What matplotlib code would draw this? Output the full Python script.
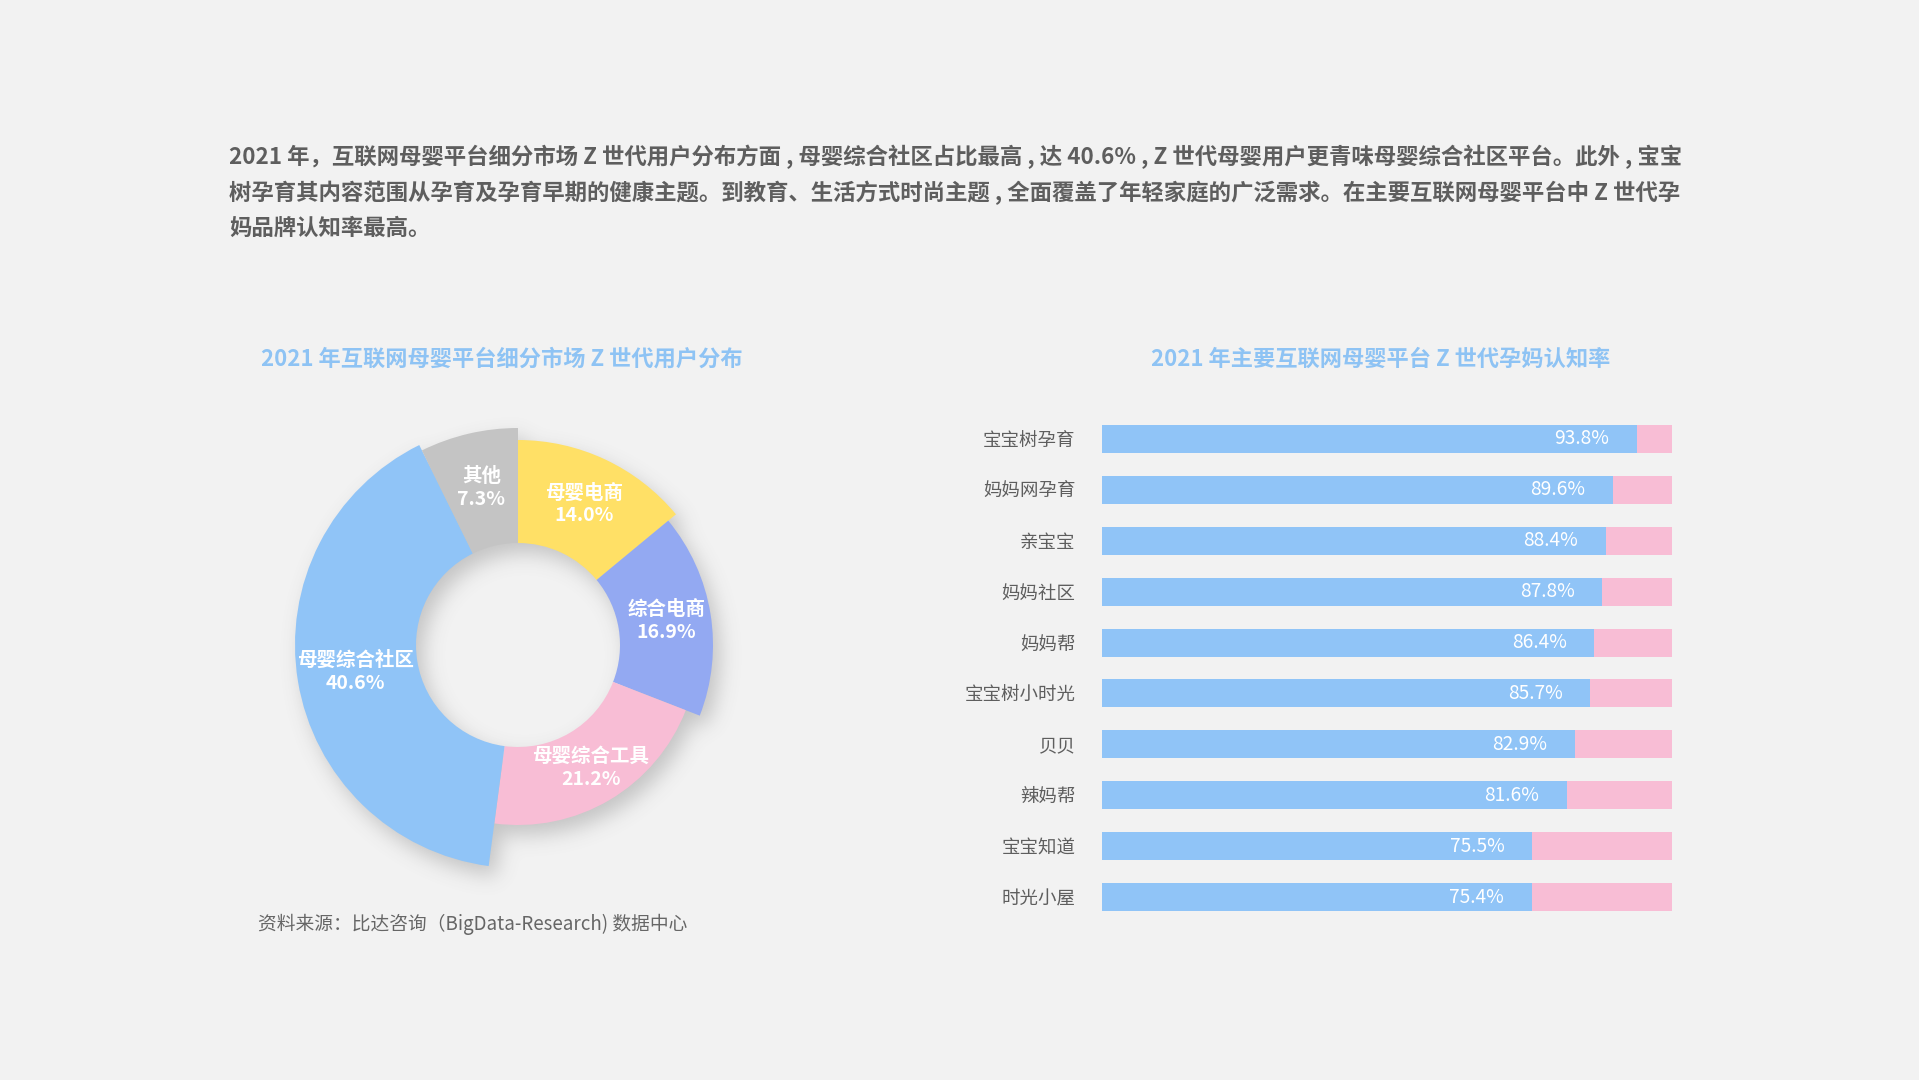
import numpy as np
import matplotlib
matplotlib.use("Agg")
import matplotlib.pyplot as plt
from matplotlib.patches import Wedge

plt.rcParams['font.family'] = ['Noto Sans CJK SC', 'DejaVu Sans']

# ---------------- data ----------------
intro_lines = [
    "2021 年，互联网母婴平台细分市场 Z 世代用户分布方面 , 母婴综合社区占比最高 , 达 40.6% , Z 世代母婴用户更青味母婴综合社区平台。此外 , 宝宝",
    "树孕育其内容范围从孕育及孕育早期的健康主题。到教育、生活方式时尚主题 , 全面覆盖了年轻家庭的广泛需求。在主要互联网母婴平台中 Z 世代孕",
    "妈品牌认知率最高。",
]
pie_title = "2021 年互联网母婴平台细分市场 Z 世代用户分布"
bar_title = "2021 年主要互联网母婴平台 Z 世代孕妈认知率"
source_text = "资料来源：比达咨询（BigData-Research) 数据中心"

pie_labels = ["母婴电商", "综合电商", "母婴综合工具", "母婴综合社区", "其他"]
pie_values = [14.0, 16.9, 21.2, 40.6, 7.3]

bar_categories = ["宝宝树孕育", "妈妈网孕育", "亲宝宝", "妈妈社区", "妈妈帮",
                  "宝宝树小时光", "贝贝", "辣妈帮", "宝宝知道", "时光小屋"]
bar_values = [93.8, 89.6, 88.4, 87.8, 86.4, 85.7, 82.9, 81.6, 75.5, 75.4]

# ---------------- style ----------------
BG = "#F2F2F2"
pie_colors = ["#FFE066", "#93A9F2", "#F8BDD5", "#90C4F7", "#C4C4C4"]
pie_outer_r = [205, 195, 180, 223, 217]   # rose-style outer radii (px)
pie_inner_r = 102
BLUE = "#90C4F7"
PINK = "#F8BDD5"
TITLE_C = "#8EC3F4"
TEXT_C = "#5E5E5E"

W, H = 1919, 1080
fig = plt.figure(figsize=(W / 100, H / 100), dpi=100, facecolor=BG)

def fx(px):
    return px / W

def fy(py):
    return 1 - py / H

# intro paragraph
for i, line in enumerate(intro_lines):
    fig.text(fx(229), fy(157 + 35.5 * i), line, fontsize=16.15, fontweight='bold',
             color=TEXT_C, ha='left', va='center')

# titles
fig.text(fx(502), fy(359), pie_title, fontsize=16, fontweight='bold',
         color=TITLE_C, ha='center', va='center')
fig.text(fx(1381), fy(359), bar_title, fontsize=16, fontweight='bold',
         color=TITLE_C, ha='center', va='center')

# source
fig.text(fx(258), fy(924), source_text, fontsize=13.5, color="#666666",
         ha='left', va='center')

# ---------------- donut (rose) ----------------
cx, cy = 518, 645
half = 270
axp = fig.add_axes([fx(cx - half), fy(cy + half), 2 * half / W, 2 * half / H])
axp.set_xlim(-half, half)
axp.set_ylim(-half, half)
axp.set_aspect('equal')
axp.axis('off')

total = sum(pie_values)
fracs = np.array(pie_values) / total
cum = np.concatenate([[0], np.cumsum(fracs)])

# soft shadow
n = 2 * half
xs = np.arange(n) - half + 0.5
X, Y = np.meshgrid(xs, xs)
dx, dy = 7, -10
Xs, Ys = X - dx, Y - dy
R = np.hypot(Xs, Ys)
ang = (90 - np.degrees(np.arctan2(Ys, Xs))) % 360 / 360.0
idx = np.clip(np.searchsorted(cum, ang, side='right') - 1, 0, len(pie_values) - 1)
outer = np.array(pie_outer_r)[idx]
mask = ((R >= pie_inner_r) & (R <= outer)).astype(float)
sig = 10
k = np.arange(-3 * sig, 3 * sig + 1)
kern = np.exp(-k ** 2 / (2 * sig ** 2))
kern /= kern.sum()
blur = np.apply_along_axis(lambda v: np.convolve(v, kern, mode='same'), 0, mask)
blur = np.apply_along_axis(lambda v: np.convolve(v, kern, mode='same'), 1, blur)
rgba = np.zeros((n, n, 4))
rgba[..., 0:3] = 0.35
rgba[..., 3] = blur * 0.3
axp.imshow(rgba, extent=(-half, half, -half, half), origin='lower', zorder=1,
           interpolation='bilinear')

for i, (lab, val) in enumerate(zip(pie_labels, pie_values)):
    a0 = 90 - 360 * cum[i]
    a1 = 90 - 360 * cum[i + 1]
    ro = pie_outer_r[i]
    w = Wedge((0, 0), ro, a1, a0, width=ro - pie_inner_r,
              facecolor=pie_colors[i], edgecolor='none', zorder=2)
    axp.add_patch(w)
    mid = np.radians((a0 + a1) / 2)
    rm = (ro + pie_inner_r) / 2 + 2
    axp.text(rm * np.cos(mid), rm * np.sin(mid), f"{lab}\n{val:.1f}%",
             ha='center', va='center', color='white', fontsize=14,
             fontweight='bold', linespacing=1.26, zorder=3)

# ---------------- bars ----------------
row0, row_gap = 439, 50.9
nb = len(bar_categories)
top = row0 - row_gap / 2
bottom = row0 + row_gap * (nb - 1) + row_gap / 2
axb = fig.add_axes([fx(1102), fy(bottom), (1672 - 1102) / W, (bottom - top) / H])
axb.set_facecolor('none')
ypos = np.arange(nb)
bh = 28 / row_gap
axb.barh(ypos, [100] * nb, height=bh, color=PINK, zorder=1)
axb.barh(ypos, bar_values, height=bh, color=BLUE, zorder=2)
for y, v in zip(ypos, bar_values):
    axb.annotate(f"{v:.1f}%", xy=(v, y), xytext=(-20, 0), textcoords='offset points',
                 ha='right', va='center', color='white', fontsize=13.8,
                 fontweight='light', zorder=3)
axb.set_xlim(0, 100)
axb.set_ylim(nb - 0.5, -0.5)
axb.set_yticks(ypos)
axb.set_yticklabels(bar_categories, fontsize=13.3, color=TEXT_C)
axb.tick_params(axis='y', length=0, pad=19)
axb.set_xticks([])
for s in axb.spines.values():
    s.set_visible(False)

fig.savefig("out.png", dpi=100, facecolor=BG)
